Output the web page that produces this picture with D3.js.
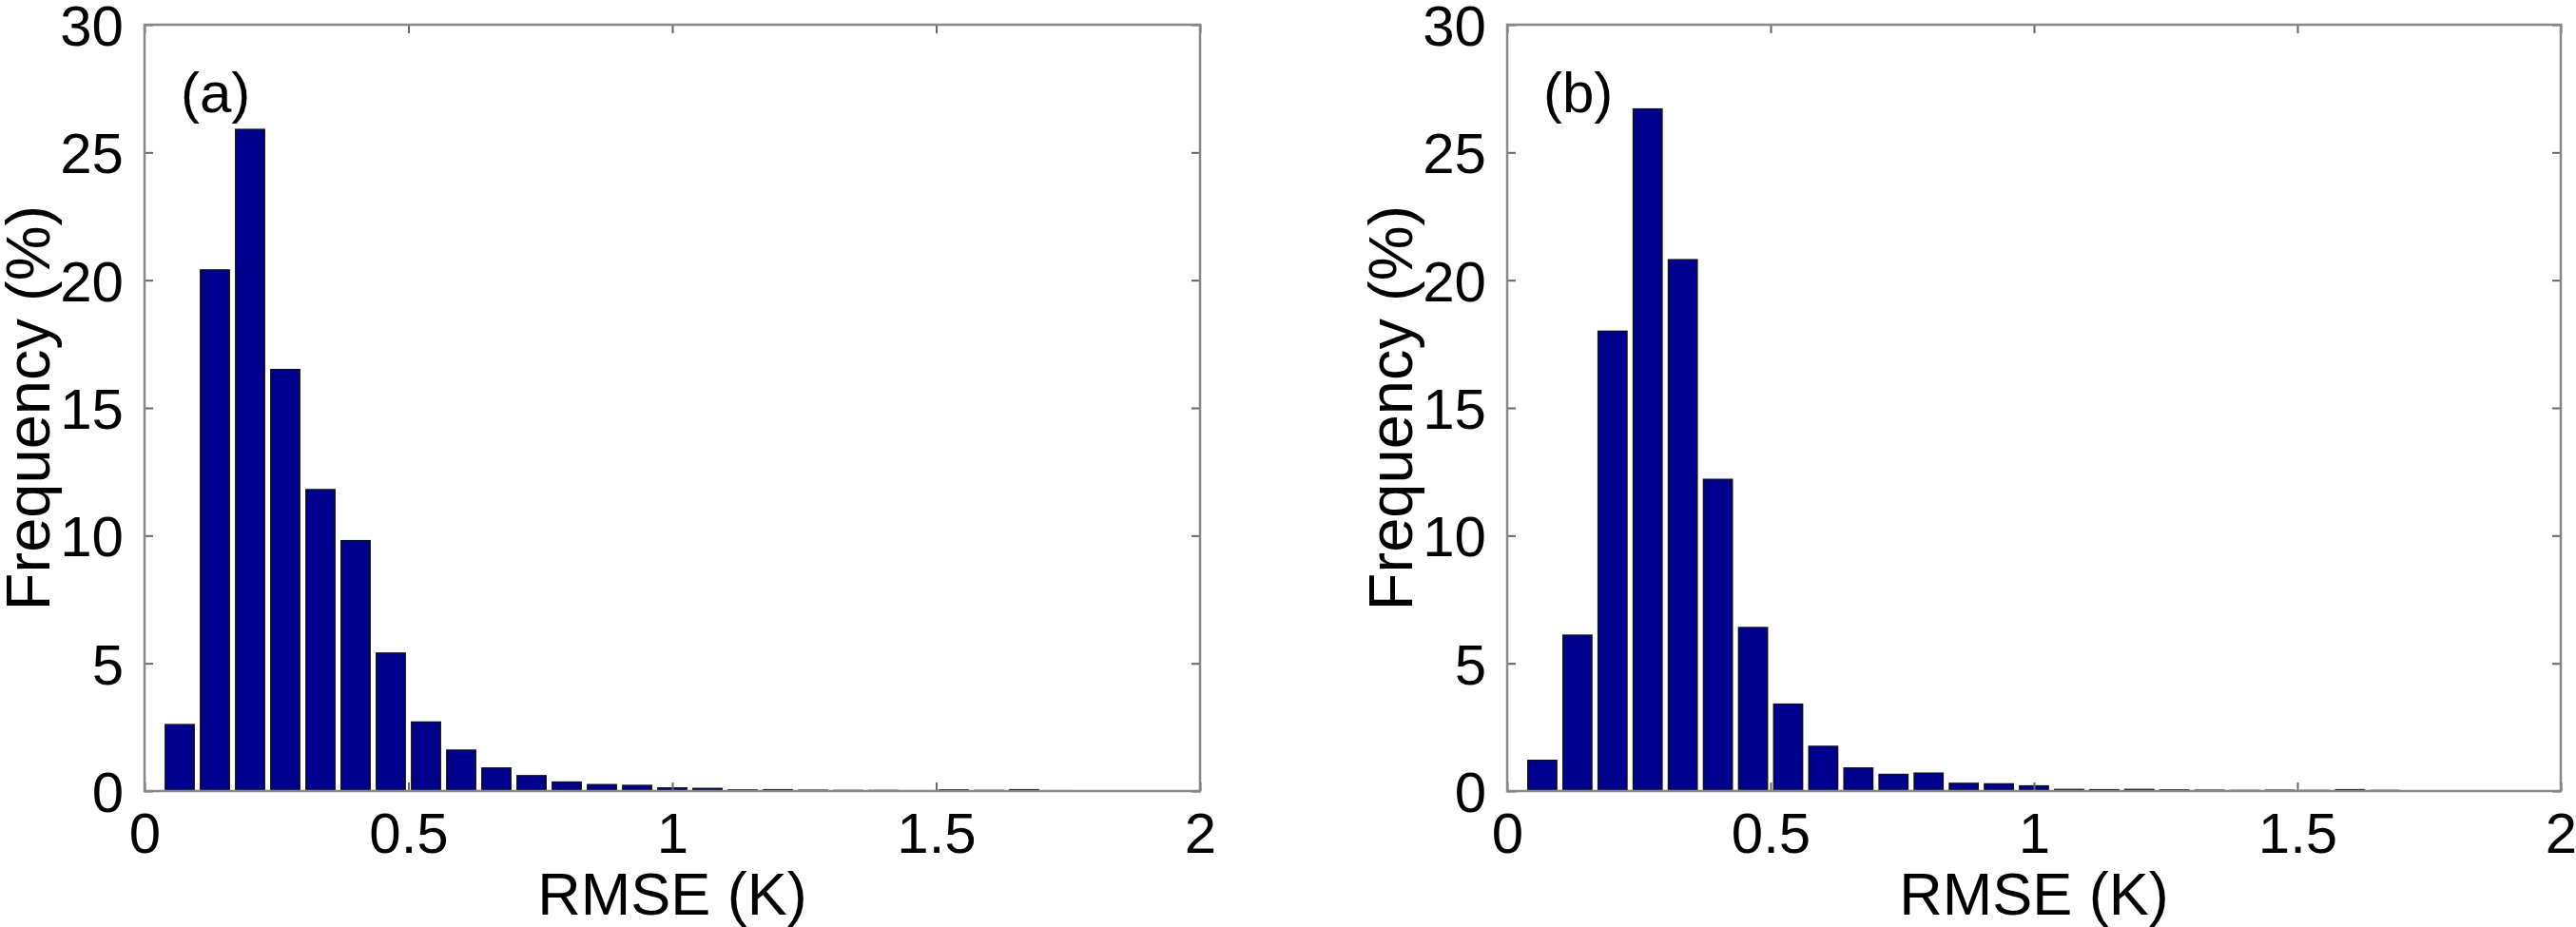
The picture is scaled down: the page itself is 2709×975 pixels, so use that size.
<!DOCTYPE html>
<html>
<head>
<meta charset="utf-8">
<script src="https://cdn.jsdelivr.net/npm/d3@7"></script>
<style>
body { margin: 0; background: #fff; }
text { font-family: "Liberation Sans", Arial, sans-serif; fill: #000; }
</style>
</head>
<body>
<svg id="chart" width="2709" height="975"></svg>
<script>
// bin centres (RMSE, K), 30 bins over 0..2
var binCenters = d3.range(1, 31).map(k => k / 15);
var freqA = [2.6, 20.4, 25.9, 16.5, 11.8, 9.8, 5.4, 2.7, 1.6, 0.9, 0.6, 0.35, 0.25, 0.22, 0.12, 0.1,
             0.04, 0.05, 0.03, 0.02, 0.02, 0.01, 0.04, 0.02, 0.05, 0.01, 0, 0, 0, 0];
var freqB = [1.2, 6.1, 18.0, 26.7, 20.8, 12.2, 6.4, 3.4, 1.75, 0.9, 0.65, 0.7, 0.3, 0.28, 0.2, 0.06,
             0.05, 0.06, 0.04, 0.03, 0.02, 0.03, 0.02, 0.05, 0.02, 0, 0, 0, 0, 0];
var xTicks = [0, 0.5, 1, 1.5, 2];
var yTicks = [0, 5, 10, 15, 20, 25, 30];

var svg = d3.select("#chart");

function panel(x0, x1, data, tag) {
  var top = 26, bottom = 832;
  var x = d3.scaleLinear().domain([0, 2]).range([x0, x1]);
  var y = d3.scaleLinear().domain([0, 30]).range([bottom, top]);
  var g = svg.append("g");
  var bw = (x(1 / 15) - x(0)) * 0.82;

  g.selectAll("rect").data(data).enter().append("rect")
    .attr("x", (d, i) => x(binCenters[i]) - bw / 2)
    .attr("y", d => y(d))
    .attr("width", bw)
    .attr("height", d => bottom - y(d))
    .attr("fill", "#00008f")
    .attr("stroke", "#111")
    .attr("stroke-width", 1.5);

  var tl = -9;
  var axes = [
    [d3.axisBottom(x).tickValues(xTicks).tickFormat(d3.format("")), bottom, true],
    [d3.axisTop(x).tickValues(xTicks).tickFormat(""), top, false]
  ];
  axes.forEach(a => {
    var ax = g.append("g").attr("transform", "translate(0," + a[1] + ")")
      .call(a[0].tickSizeInner(tl).tickSizeOuter(0).tickPadding(22));
    ax.selectAll("text").style("font-size", "60px").attr("dy", a[2] ? "0.71em" : null);
  });
  var ay = [
    [d3.axisLeft(y).tickValues(yTicks), x0, true],
    [d3.axisRight(y).tickValues(yTicks).tickFormat(""), x1, false]
  ];
  ay.forEach(a => {
    var ax = g.append("g").attr("transform", "translate(" + a[1] + ",0)")
      .call(a[0].tickSizeInner(tl).tickSizeOuter(0).tickPadding(22));
    ax.selectAll("text").style("font-size", "60px").attr("dy", "0.36em");
  });
  g.selectAll(".domain").remove();
  g.selectAll(".tick line").attr("stroke", "#666").attr("stroke-width", 2);
  g.selectAll(".tick text").attr("fill", "#000");
  g.append("rect").attr("x", x0).attr("y", top).attr("width", x1 - x0).attr("height", bottom - top)
    .attr("fill", "none").attr("stroke", "#888").attr("stroke-width", 2.5);

  g.append("text").attr("x", x0 + 38).attr("y", 118).style("font-size", "60px").text(tag);
  g.append("text").attr("x", (x0 + x1) / 2).attr("y", 962).attr("text-anchor", "middle")
    .style("font-size", "63px").text("RMSE (K)");
  g.append("text").attr("transform", "translate(" + (x0 - 100) + "," + ((top + bottom) / 2) + ") rotate(-90)")
    .attr("text-anchor", "middle").style("font-size", "65px").text("Frequency (%)");
}

panel(152, 1262, freqA, "(a)");
panel(1585, 2693, freqB, "(b)");
</script>
</body>
</html>
